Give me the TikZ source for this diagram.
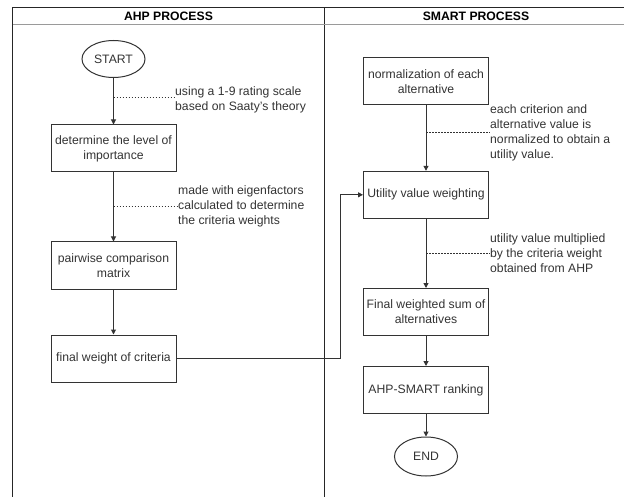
\documentclass[tikz,border=0pt]{standalone}
\usepackage{fontspec}
\setmainfont{Liberation Sans}
\usetikzlibrary{arrows.meta,shapes.geometric}
\definecolor{ln}{HTML}{333333}
\definecolor{tx}{HTML}{333333}
\definecolor{hd}{HTML}{9A9A9A}
\newcommand{\fnt}{\fontsize{12.2}{15}\selectfont}
\begin{document}
\begin{tikzpicture}[x=1pt,y=-1pt,
 box/.style={draw=ln,line width=1pt,minimum width=125pt,minimum height=47pt,inner sep=0pt,align=center,text=tx,font=\fnt},
 term/.style={draw=ln,ellipse,line width=1pt,minimum width=63pt,minimum height=37pt,inner sep=0pt,text=tx,font=\fnt},
 arr/.style={draw=ln,line width=1pt,-{Triangle[length=5pt,width=5pt]}},
 dots/.style={draw=ln,dash pattern=on 1.5pt off 1.5pt,line width=0.7pt},
 lbl/.style={anchor=west,align=left,text=tx,inner sep=0pt,font=\fnt},
 head/.style={font=\bfseries\fnt,text=black,inner sep=0pt},
 frame/.style={draw=black!85,line width=1.2pt}
]
\useasboundingbox (0,0) rectangle (624,497);
% frame
\draw[frame] (12.5,497) -- (12.5,7.3) -- (630,7.3);
\draw[frame] (324.5,7.3) -- (324.5,497);
\draw[draw=hd,line width=1.5pt] (13,24.7) -- (630,24.7);
\node[head] (h1) at (168.5,16) {AHP PROCESS};
\node[head] (h2) at (476,16) {SMART PROCESS};
% left column
\node[term] (start) at (113.5,59) {START};
\node[box] (det) at (113.5,148.5) {determine the level of\\importance};
\node[box] (pair) at (113.5,265.5) {pairwise comparison\\matrix};
\node[box] (fw) at (113.5,358.5) {final weight of criteria};
\draw[arr] (start) -- (det);
\draw[arr] (det) -- (pair);
\draw[arr] (pair) -- (fw);
\coordinate (d1) at (113.5,97.7);
\node[lbl] (l1) at (175,100) {using a 1-9 rating scale\\based on Saaty's theory};
\draw[dots] (d1) -- (d1 -| l1.west);
\coordinate (d2) at (113.5,206.7);
\node[lbl] (l2) at (178,206.7) {made with eigenfactors\\calculated to determine\\the criteria weights};
\draw[dots] (d2) -- (d2 -| l2.west);
% right column
\node[box] (norm) at (426,81.5) {normalization of each\\alternative};
\node[box] (util) at (426,194.8) {Utility value weighting};
\node[box] (fsum) at (426,312) {Final weighted sum of\\alternatives};
\node[box] (rank) at (426,390) {AHP-SMART ranking};
\node[term,minimum height=39pt] (end) at (426,456.5) {END};
\draw[arr] (norm) -- (util);
\draw[arr] (util) -- (fsum);
\draw[arr] (fsum) -- (rank);
\draw[arr] (rank) -- (end);
\coordinate (d3) at (426,132.3);
\node[lbl] (l3) at (490,132.8) {each criterion and\\alternative value is\\normalized to obtain a\\utility value.};
\draw[dots] (d3) -- (d3 -| l3.west);
\coordinate (d4) at (426,253.3);
\node[lbl] (l4) at (490,253.3) {utility value multiplied\\by the criteria weight\\obtained from AHP};
\draw[dots] (d4) -- (d4 -| l4.west);
% cross connector
\coordinate (bend) at (340.7,358.5);
\draw[arr] (fw.east) -- (bend) |- (util.west);
\end{tikzpicture}
\end{document}
